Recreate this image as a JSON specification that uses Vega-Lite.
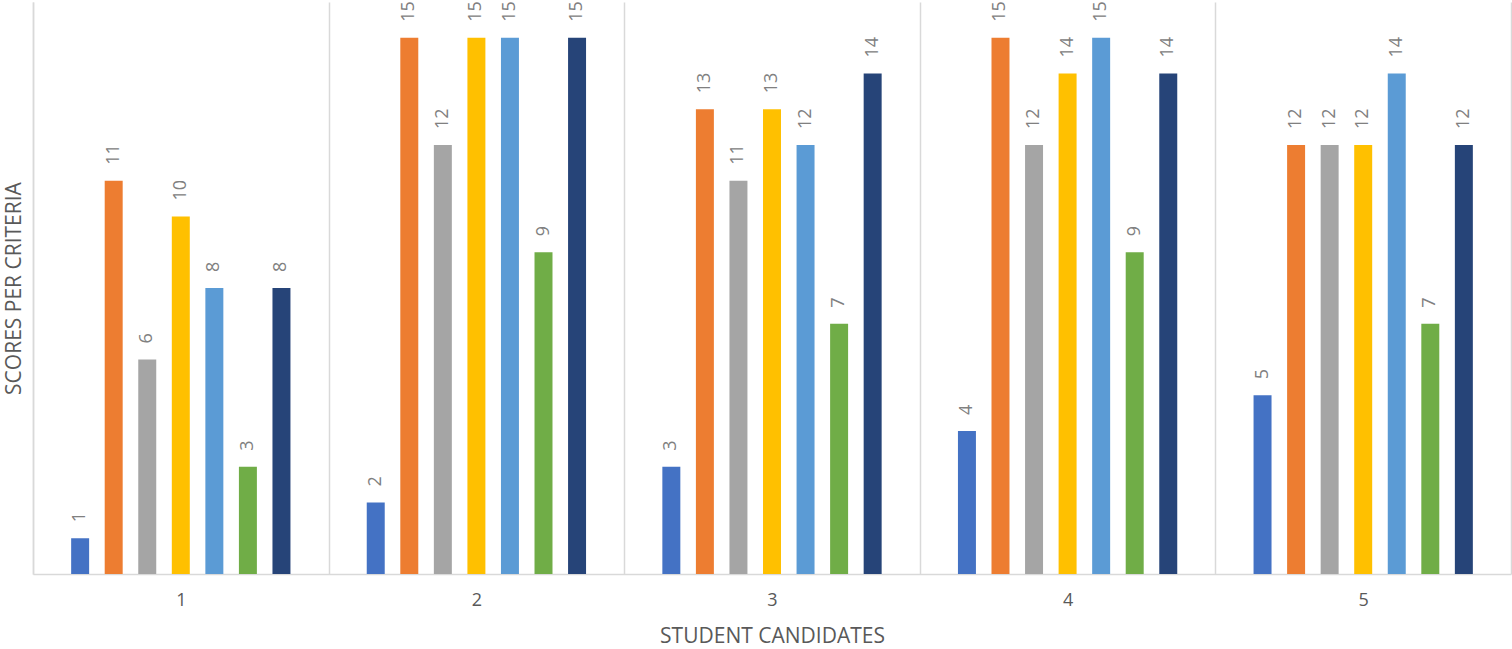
{
  "$schema": "https://vega.github.io/schema/vega-lite/v6.json",
  "width": 1478,
  "height": 572,
  "autosize": {"type": "none"},
  "padding": {"left": 33, "top": 2, "right": 1, "bottom": 75},
  "background": "white",
  "config": {"view": {"stroke": null}, "font": "Open Sans"},
  "data": {
    "values": [
      {"candidate": "1", "criteria": "Criteria 1", "score": 1},
      {"candidate": "1", "criteria": "Criteria 2", "score": 11},
      {"candidate": "1", "criteria": "Criteria 3", "score": 6},
      {"candidate": "1", "criteria": "Criteria 4", "score": 10},
      {"candidate": "1", "criteria": "Criteria 5", "score": 8},
      {"candidate": "1", "criteria": "Criteria 6", "score": 3},
      {"candidate": "1", "criteria": "Criteria 7", "score": 8},
      {"candidate": "2", "criteria": "Criteria 1", "score": 2},
      {"candidate": "2", "criteria": "Criteria 2", "score": 15},
      {"candidate": "2", "criteria": "Criteria 3", "score": 12},
      {"candidate": "2", "criteria": "Criteria 4", "score": 15},
      {"candidate": "2", "criteria": "Criteria 5", "score": 15},
      {"candidate": "2", "criteria": "Criteria 6", "score": 9},
      {"candidate": "2", "criteria": "Criteria 7", "score": 15},
      {"candidate": "3", "criteria": "Criteria 1", "score": 3},
      {"candidate": "3", "criteria": "Criteria 2", "score": 13},
      {"candidate": "3", "criteria": "Criteria 3", "score": 11},
      {"candidate": "3", "criteria": "Criteria 4", "score": 13},
      {"candidate": "3", "criteria": "Criteria 5", "score": 12},
      {"candidate": "3", "criteria": "Criteria 6", "score": 7},
      {"candidate": "3", "criteria": "Criteria 7", "score": 14},
      {"candidate": "4", "criteria": "Criteria 1", "score": 4},
      {"candidate": "4", "criteria": "Criteria 2", "score": 15},
      {"candidate": "4", "criteria": "Criteria 3", "score": 12},
      {"candidate": "4", "criteria": "Criteria 4", "score": 14},
      {"candidate": "4", "criteria": "Criteria 5", "score": 15},
      {"candidate": "4", "criteria": "Criteria 6", "score": 9},
      {"candidate": "4", "criteria": "Criteria 7", "score": 14},
      {"candidate": "5", "criteria": "Criteria 1", "score": 5},
      {"candidate": "5", "criteria": "Criteria 2", "score": 12},
      {"candidate": "5", "criteria": "Criteria 3", "score": 12},
      {"candidate": "5", "criteria": "Criteria 4", "score": 12},
      {"candidate": "5", "criteria": "Criteria 5", "score": 14},
      {"candidate": "5", "criteria": "Criteria 6", "score": 7},
      {"candidate": "5", "criteria": "Criteria 7", "score": 12}
    ]
  },
  "encoding": {
    "x": {
      "field": "candidate",
      "type": "ordinal",
      "scale": {"paddingInner": 0, "paddingOuter": 0},
      "axis": {
        "title": "STUDENT CANDIDATES",
        "titleFontSize": 21,
        "titleFontWeight": "normal",
        "titleColor": "#595959",
        "titlePadding": 16,
        "labelAngle": 0,
        "labelFontSize": 18,
        "labelColor": "#595959",
        "labelPadding": 17,
        "ticks": false,
        "domainColor": "#d9d9d9",
        "domainWidth": 1.5,
        "grid": true,
        "gridColor": "#d9d9d9",
        "gridWidth": 1.5,
        "tickBand": "extent"
      }
    },
    "xOffset": {
      "field": "criteria",
      "type": "nominal",
      "scale": {
        "domain": ["pad-left", "Criteria 1", "Criteria 2", "Criteria 3", "Criteria 4", "Criteria 5", "Criteria 6", "Criteria 7", "pad-right"],
        "paddingInner": 0.464,
        "paddingOuter": 0.137
      }
    },
    "y": {
      "field": "score",
      "type": "quantitative",
      "scale": {"domain": [0, 16], "nice": false},
      "axis": {
        "title": "SCORES PER CRITERIA",
        "titleFontSize": 21,
        "titleFontWeight": "normal",
        "titleColor": "#595959",
        "titlePadding": 9,
        "labels": false,
        "ticks": false,
        "grid": false,
        "domain": true,
        "domainColor": "#d9d9d9",
        "domainWidth": 1.5
      }
    }
  },
  "layer": [
    {
      "mark": {"type": "bar"},
      "encoding": {
        "color": {
          "field": "criteria",
          "type": "nominal",
          "legend": null,
          "scale": {
            "domain": ["Criteria 1", "Criteria 2", "Criteria 3", "Criteria 4", "Criteria 5", "Criteria 6", "Criteria 7"],
            "range": ["#4472C4", "#ED7D31", "#A5A5A5", "#FFC000", "#5B9BD5", "#70AD47", "#264478"]
          }
        }
      }
    },
    {
      "mark": {
        "type": "text",
        "angle": 270,
        "align": "left",
        "baseline": "middle",
        "dx": 16,
        "fontSize": 18,
        "color": "#808080"
      },
      "encoding": {"text": {"field": "score", "type": "quantitative"}}
    }
  ]
}
